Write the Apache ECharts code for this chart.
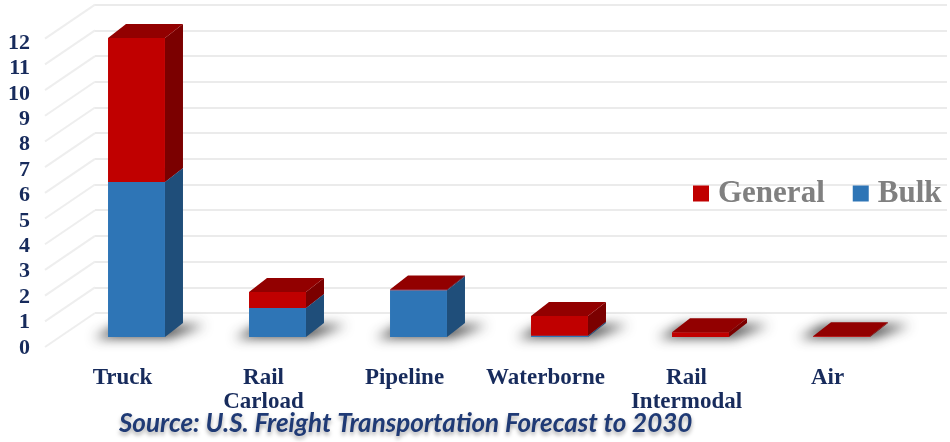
<!DOCTYPE html>
<html><head><meta charset="utf-8">
<script src="https://cdn.jsdelivr.net/npm/echarts@6/dist/echarts.min.js"></script>
<style>html,body{margin:0;padding:0;background:#fff}#c{width:950px;height:442px}</style>
</head><body><div id="c"></div>
<script>
const categories = ['Truck', 'Rail\nCarload', 'Pipeline', 'Waterborne', 'Rail\nIntermodal', 'Air'];
const bulk = [6.03, 1.13, 1.82, 0.05, 0.0, 0.0];
const general = [5.6, 0.62, 0.03, 0.77, 0.18, 0.03];
const yTicks = [0,1,2,3,4,5,6,7,8,9,10,11,12];
const sourceText = 'Source: U.S. Freight Transportation Forecast to 2030';

const DX = 18, DY = 14, BAR_FRAC = 0.404;
const NAVY = '#172b5c';
const OFF = 1200;

function boxShape(api, base, top, cols) {
  const c = api.value(0);
  const pb = api.coord([c, base]);
  const pt = api.coord([c, top]);
  const w = api.size([1, 0])[0] * BAR_FRAC;
  const x0 = pb[0] - w / 2, x1 = pb[0] + w / 2;
  const yb = pb[1], yt = pt[1];
  return [
    {type: 'polygon', shape: {points: [[x1, yb], [x1 + DX, yb - DY], [x1 + DX, yt - DY], [x1, yt]]}, style: {fill: cols.side}},
    {type: 'polygon', shape: {points: [[x0, yt], [x1, yt], [x1 + DX, yt - DY], [x0 + DX, yt - DY]]}, style: {fill: cols.top}},
    {type: 'rect', shape: {x: x0, y: yt, width: w, height: Math.max(yb - yt, 0)}, style: {fill: cols.front}}
  ];
}

const chart = echarts.init(document.getElementById('c'), null, {renderer: 'canvas'});
const option = {
  animation: false,
  backgroundColor: '#ffffff',
  grid: [
    {left: 66, right: 38, top: 28.6, bottom: 105},
    {left: 95, right: 3, top: 4.7, bottom: 129},
    {left: 38, right: 860, top: 43, bottom: 94}
  ],
  xAxis: [
    {type: 'category', gridIndex: 0, data: categories,
     axisLine: {show: false}, axisTick: {show: false}, splitLine: {show: false},
     axisLabel: {interval: 0, margin: 29, fontFamily: 'Liberation Serif', fontWeight: 'bold', fontSize: 23,
                 color: NAVY, lineHeight: 24, padding: [0, 28, 0, 0]}},
    {type: 'value', gridIndex: 1, min: 0, max: 1, show: false},
    {type: 'value', gridIndex: 2, min: 0, max: 1, show: false}
  ],
  yAxis: [
    {type: 'value', gridIndex: 0, min: 0, max: 12, interval: 1, show: false},
    {type: 'value', gridIndex: 1, min: 0, max: 12, interval: 1,
     axisLine: {show: false}, axisTick: {show: false}, axisLabel: {show: false},
     splitLine: {show: true, lineStyle: {color: '#ebebeb', width: 2}}},
    {type: 'value', gridIndex: 2, min: 0, max: 12, interval: 1,
     axisLine: {show: false}, axisTick: {show: false}, splitLine: {show: false},
     axisLabel: {margin: 8, fontFamily: 'Liberation Serif', fontWeight: 'bold', fontSize: 22, color: NAVY}}
  ],
  legend: {
    data: ['General', 'Bulk'], orient: 'horizontal', left: 693, top: 178, width: 300,
    icon: 'rect', itemWidth: 16, itemHeight: 16, itemGap: 28, padding: 0,
    selectedMode: false,
    textStyle: {fontFamily: 'Liberation Serif', fontWeight: 'bold', fontSize: 31, color: '#808080', padding: [0, 0, 0, 4]}
  },
  graphic: [
    {type: 'text', left: 119, top: 411, style: {text: sourceText, fontFamily: 'Lato', fontStyle: 'italic', fontWeight: 'bold',
      fontSize: 26, fill: '#1f3a75', textShadowColor: 'rgba(0,0,0,0.35)', textShadowBlur: 4, textShadowOffsetY: 3}}
  ],
  series: [
    {type: 'custom', name: 'wall', xAxisIndex: 1, yAxisIndex: 1, silent: true, z: 1,
     data: yTicks.map(v => [0, v]),
     renderItem: function (params, api) {
       const p = api.coord([0, api.value(1)]);
       return {type: 'line', shape: {x1: p[0] - 50, y1: p[1] + 34, x2: p[0], y2: p[1]},
               style: {stroke: '#eeeeee', lineWidth: 2}};
     }},
    {type: 'custom', name: 'shadow', xAxisIndex: 0, yAxisIndex: 0, silent: true, z: 2, clip: false,
     data: categories.map((c, i) => [i, 0]),
     renderItem: function (params, api) {
       const pb = api.coord([api.value(0), 0]);
       const w = api.size([1, 0])[0] * BAR_FRAC;
       const x0 = pb[0] - w / 2, x1 = pb[0] + w / 2, y = pb[1];
       return {type: 'polygon', shape: {points: [[x0 - 14 - OFF, y + 1], [x1 + 4 - OFF, y + 1], [x1 + DX + 22 - OFF, y - DY + 2], [x0 + DX - 8 - OFF, y - DY + 2]]},
               style: {fill: '#000', shadowBlur: 12, shadowOffsetX: OFF, shadowColor: 'rgba(40,40,40,0.85)'}};
     }},
    {type: 'custom', name: 'Bulk', xAxisIndex: 0, yAxisIndex: 0, z: 3,
     itemStyle: {color: '#2e75b6'},
     data: categories.map((c, i) => [i, 0, bulk[i]]),
     encode: {x: 0, y: 2},
     renderItem: function (params, api) {
       if (api.value(2) <= 0) return null;
       return {type: 'group', children: boxShape(api, api.value(1), api.value(2),
         {front: '#2e75b6', side: '#1f4e7a', top: '#4f8fcc'})};
     }},
    {type: 'custom', name: 'General', xAxisIndex: 0, yAxisIndex: 0, z: 4,
     itemStyle: {color: '#c00000'},
     data: categories.map((c, i) => [i, bulk[i], bulk[i] + general[i]]),
     encode: {x: 0, y: 2},
     renderItem: function (params, api) {
       return {type: 'group', children: boxShape(api, api.value(1), api.value(2),
         {front: '#c00000', side: '#7b0000', top: '#920000'})};
     }}
  ]
};
chart.setOption(option);
</script>
</body></html>
